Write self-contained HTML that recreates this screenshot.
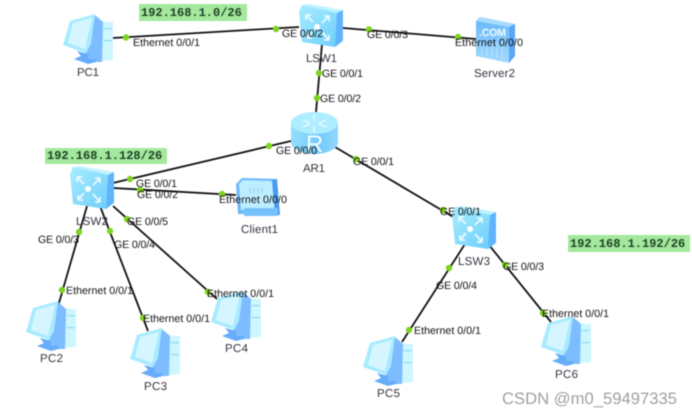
<!DOCTYPE html>
<html><head><meta charset="utf-8"><style>
html,body{margin:0;padding:0;background:#fff;width:692px;height:416px;overflow:hidden}
svg{display:block;filter:blur(.45px);text-rendering:geometricPrecision}
.p{font:10.6px "Liberation Sans",sans-serif;fill:#111}
.n{font:11.5px "Liberation Sans",sans-serif;fill:#33333f}
.m{font:bold 12px "Liberation Mono",monospace;fill:#1d3f25}
.w{font:16.6px "Liberation Sans",sans-serif;fill:#a0a0a0}
</style></head><body>
<svg width="692" height="416" viewBox="0 0 692 416" xmlns="http://www.w3.org/2000/svg">
<defs>
<linearGradient id="sw" x1="0" y1="0" x2="1" y2="1"><stop offset="0" stop-color="#a8ecff"/><stop offset="1" stop-color="#6accfb"/></linearGradient>
<linearGradient id="rt" x1="0" y1="0" x2="1" y2="0"><stop offset="0" stop-color="#96defd"/><stop offset=".6" stop-color="#72caFB"/><stop offset="1" stop-color="#92d8fd"/></linearGradient>
<linearGradient id="sv" x1="0" y1="0" x2="0" y2="1"><stop offset="0" stop-color="#66b6fb"/><stop offset="1" stop-color="#a4dafd"/></linearGradient>
<g id="pc">
<polygon points="28,7 50,8 50,46 27,48 24,30" fill="#cdf6ff"/>
<polygon points="32,1 40,8 39,48 27,48 22,41" fill="#7cbcff"/>
<polygon points="32,0 7,7 0,31 23,39 28,30" fill="#a8ebff"/>
<polygon points="29,4 10,9 5,29 22,35" fill="#d6f6ff"/>
<polygon points="14,37 25,40 25,45 33,45 33,48 25,50 11,45 18,42" fill="#66acfb"/>
<rect x="41" y="14" width="8" height="1.2" fill="#8cdcf6"/><rect x="41" y="26" width="8" height="1.2" fill="#8cdcf6"/>
</g>
<g id="sw3">
<polygon points="0,7 3,0 38,6 44,5 44,36 36,42 3,37" fill="url(#sw)"/>
<polygon points="38,8 44,5 44,35 36,42" fill="#5fb4fb"/>
<polygon points="3,0 10,-1 44,5 38,8" fill="#c0f2ff"/>
<circle cx="18" cy="22" r="3" fill="#fff"/>
<path d="M7 10l7 7M7 10v5M7 10h5M30 11l-7 7M30 11v5M30 11h-5M8 33l6-7M8 33v-5M8 33h5M30 35l-7-8M30 35v-5M30 35h-5" stroke="#e8fbff" stroke-width="1.800" fill="none"/>
</g>
</defs>

<rect width="692" height="416" fill="#fff"/>

<g stroke="#111" stroke-width="1.8" fill="none">
<line x1="113" y1="38" x2="299" y2="27"/>
<line x1="343" y1="28" x2="476" y2="39"/>
<line x1="322" y1="44" x2="316" y2="112"/>
<line x1="291" y1="141" x2="113" y2="183"/>
<line x1="113" y1="188" x2="236" y2="195"/>
<line x1="87" y1="206" x2="59" y2="303"/>
<line x1="100" y1="206" x2="148" y2="331"/>
<line x1="113" y1="206" x2="217" y2="299"/>
<line x1="335" y1="147" x2="455" y2="218"/>
<line x1="465" y1="244" x2="402" y2="342"/>
<line x1="489" y1="245" x2="551" y2="322"/>
</g>

<use href="#pc" x="63" y="14"/>
<use href="#pc" x="26" y="301"/>
<use href="#pc" x="130" y="328"/>
<use href="#pc" x="211" y="291"/>
<use href="#pc" x="363" y="336"/>
<use href="#pc" x="541" y="316"/>
<use href="#sw3" x="299" y="5"/>
<use href="#sw3" x="70" y="167"/>
<use href="#sw3" x="452" y="207"/>

<!-- router -->
<path d="M291 124v18c0 7 11 12 23.500 12s23.500-5 23.500-12v-18z" fill="url(#rt)"/>
<ellipse cx="314.500" cy="123" rx="23.500" ry="11" fill="#aeecff"/>
<path d="M303 120l7 3M303 127l7-3M326 120l-7 3M326 127l-7-3M314 115v6M314 132v-6" stroke="#e2faff" stroke-width="1.600" fill="none"/>
<text x="306" y="152" font-family="Liberation Sans, sans-serif" font-size="24" fill="#f4fcff">R</text>

<!-- server -->
<polygon points="476,21 480,17 515,24 515,56 509,63 476,56" fill="url(#sv)"/>
<polygon points="509,27 515,24 515,56 509,63" fill="#58a6f4"/>
<polygon points="476,21 480,17 515,24 509,27" fill="#a8dcff"/>
<g stroke="#c6eaff" stroke-width=".7"><line x1="482" y1="42" x2="482" y2="55"/><line x1="487" y1="42" x2="487" y2="56"/><line x1="492" y1="42" x2="492" y2="57"/><line x1="497" y1="42" x2="497" y2="58"/><line x1="502" y1="42" x2="502" y2="59"/></g>
<text x="479" y="36" font-family="Liberation Sans, sans-serif" font-weight="bold" font-size="10.500" fill="#eefaff" textLength="27">.COM</text>

<!-- client -->
<polygon points="236,184 242,178 277,179 279,214 238,214" fill="#6db8fb"/>
<polygon points="239,184 243,180 272,181 275,210 241,210" fill="#bdeeff"/>
<polygon points="272,180 277,179 280,215 275,215" fill="#4a9af2"/>
<rect x="244" y="208" width="34" height="8" fill="#78c2fb"/>
<g stroke="#8fcdf7" stroke-width="1"><line x1="250" y1="188" x2="250" y2="193"/><line x1="254" y1="188" x2="254" y2="193"/><line x1="258" y1="188" x2="258" y2="193"/><line x1="262" y1="188" x2="262" y2="193"/></g>

<!-- dots -->
<g fill="#7ed321">
<circle cx="126" cy="37.500" r="3.200"/><circle cx="276" cy="29" r="3.200"/>
<circle cx="369" cy="29.500" r="3.200"/><circle cx="458" cy="37" r="3.200"/>
<circle cx="319" cy="73" r="3.200"/><circle cx="317" cy="98" r="3.200"/>
<circle cx="269" cy="146" r="3.200"/><circle cx="130" cy="179" r="3.200"/>
<circle cx="140" cy="190" r="3.200"/><circle cx="222" cy="194" r="3.200"/>
<circle cx="79" cy="232" r="3.200"/><circle cx="62" cy="290" r="3.200"/>
<circle cx="110" cy="231" r="3.200"/><circle cx="143" cy="318" r="3.200"/>
<circle cx="127" cy="219" r="3.200"/><circle cx="208" cy="292" r="3.200"/>
<circle cx="356" cy="159" r="3.200"/><circle cx="443" cy="210" r="3.200"/>
<circle cx="449" cy="268" r="3.200"/><circle cx="409" cy="330" r="3.200"/>
<circle cx="505" cy="265" r="3.200"/><circle cx="543" cy="313" r="3.200"/>
</g>

<!-- subnet tags -->
<rect x="139" y="4" width="108" height="17" fill="#a3e89c"/>
<rect x="45" y="148" width="122" height="16" fill="#a3e89c"/>
<rect x="568" y="235" width="122" height="17" fill="#a3e89c"/>
<text class="m" x="141" y="16">192.168.1.0/26</text>
<text class="m" x="47" y="159">192.168.1.128/26</text>
<text class="m" x="570" y="247">192.168.1.192/26</text>

<!-- port labels -->
<text class="p" x="133" y="46" textLength="67">Ethernet 0/0/1</text>
<text class="p" x="282" y="37" textLength="41">GE 0/0/2</text>
<text class="p" x="367" y="38" textLength="41">GE 0/0/3</text>
<text class="p" x="455" y="46" textLength="68">Ethernet 0/0/0</text>
<text class="p" x="322" y="77" textLength="41">GE 0/0/1</text>
<text class="p" x="320" y="102" textLength="41">GE 0/0/2</text>
<text class="p" x="276" y="154" textLength="41">GE 0/0/0</text>
<text class="p" x="136" y="187" textLength="41">GE 0/0/1</text>
<text class="p" x="137" y="198" textLength="41">GE 0/0/2</text>
<text class="p" x="219" y="203" textLength="68">Ethernet 0/0/0</text>
<text class="p" x="38" y="243" textLength="41">GE 0/0/3</text>
<text class="p" x="127" y="225" textLength="41">GE 0/0/5</text>
<text class="p" x="114" y="248" textLength="41">GE 0/0/4</text>
<text class="p" x="66" y="294" textLength="67">Ethernet 0/0/1</text>
<text class="p" x="143" y="322" textLength="67">Ethernet 0/0/1</text>
<text class="p" x="207" y="297" textLength="67">Ethernet 0/0/1</text>
<text class="p" x="353" y="165" textLength="41">GE 0/0/1</text>
<text class="p" x="440" y="215" textLength="41">GE 0/0/1</text>
<text class="p" x="436" y="289" textLength="41">GE 0/0/4</text>
<text class="p" x="414" y="334" textLength="67">Ethernet 0/0/1</text>
<text class="p" x="503" y="270" textLength="41">GE 0/0/3</text>
<text class="p" x="542" y="317" textLength="67">Ethernet 0/0/1</text>

<!-- node labels -->
<text class="n" x="77" y="76" textLength="22">PC1</text>
<text class="n" x="306" y="62" textLength="31">LSW1</text>
<text class="n" x="303" y="172" textLength="22">AR1</text>
<text class="n" x="241" y="233" textLength="37">Client1</text>
<text class="n" x="474" y="77" textLength="41">Server2</text>
<text class="n" x="76" y="225" textLength="32">LSW2</text>
<text class="n" x="40" y="362" textLength="23">PC2</text>
<text class="n" x="144" y="390" textLength="23">PC3</text>
<text class="n" x="225" y="352" textLength="23">PC4</text>
<text class="n" x="377" y="397" textLength="23">PC5</text>
<text class="n" x="555" y="378" textLength="23">PC6</text>
<text class="n" x="458" y="265" textLength="32">LSW3</text>

<text class="w" x="502" y="404" textLength="175">CSDN @m0_59497335</text>
</svg>
</body></html>
